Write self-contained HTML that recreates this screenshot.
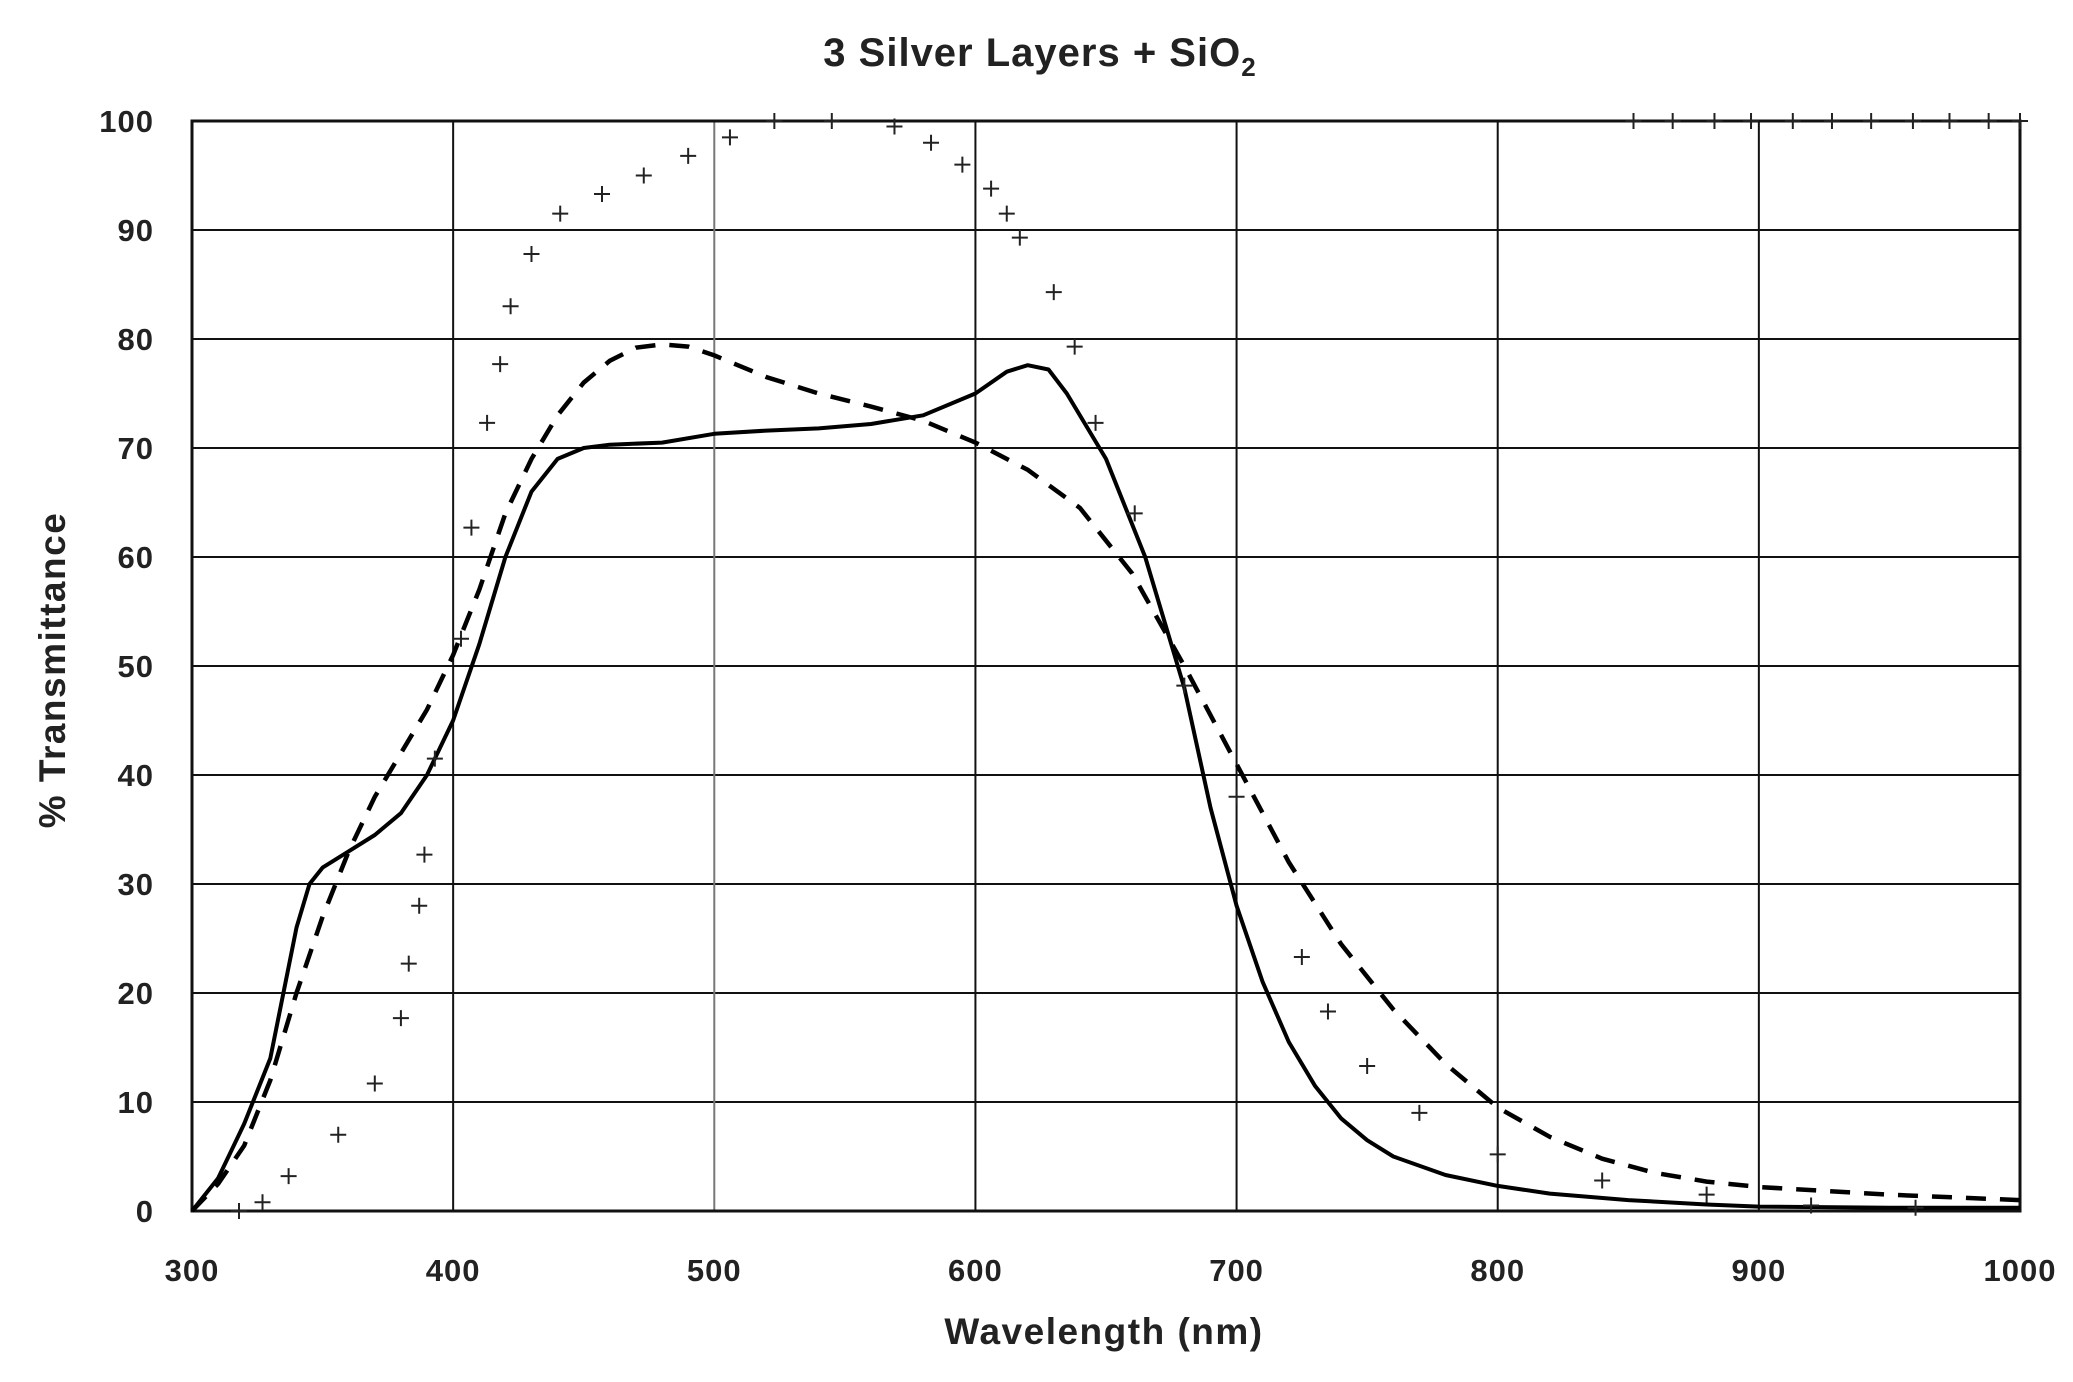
<!DOCTYPE html>
<html><head><style>
html,body{margin:0;padding:0;background:#fff;}
svg{display:block;font-family:"Liberation Sans","DejaVu Sans",sans-serif;}
</style></head><body>
<svg id="s" width="2073" height="1382" xmlns="http://www.w3.org/2000/svg">
<rect width="2073" height="1382" fill="#fff"/>
<text x="1040" y="66" font-size="40" font-weight="bold" letter-spacing="1" text-anchor="middle" fill="#222">3 Silver Layers + SiO<tspan font-size="26" dy="10">2</tspan></text>
<g id="grid"></g>
<g id="series"></g>
<g font-size="31" font-weight="bold" fill="#222" letter-spacing="1">
<g id="ylab" text-anchor="end"></g>
<g id="xlab" text-anchor="middle"></g>
</g>
<text x="1104" y="1344" font-size="37" font-weight="bold" letter-spacing="1.5" text-anchor="middle" fill="#222">Wavelength (nm)</text>
<text transform="translate(65,670) rotate(-90)" font-size="37" font-weight="bold" letter-spacing="1.5" text-anchor="middle" fill="#222">% Transmittance</text>
<script>
var L=192,R=2020,T=121,B=1211,NS="http://www.w3.org/2000/svg";
function X(w){return L+(w-300)/700*(R-L);}
function Y(v){return B-v/100*(B-T);}
function el(p,n,a,t){var e=document.createElementNS(NS,n);for(var k in a)e.setAttribute(k,a[k]);if(t!=null)e.textContent=t;document.getElementById(p).appendChild(e);return e;}
for(var v=0;v<=100;v+=10){el("grid","line",{x1:L,x2:R,y1:Y(v),y2:Y(v),stroke:"#111","stroke-width":2});el("ylab","text",{x:154,y:Y(v)+11},v);}
for(var w=300;w<=1000;w+=100){el("grid","line",{x1:X(w),x2:X(w),y1:T,y2:B,stroke:w==500?"#777":"#111","stroke-width":2});el("xlab","text",{x:X(w),y:1281},w);}
el("grid","rect",{x:L,y:T,width:R-L,height:B-T,fill:"none",stroke:"#111","stroke-width":3});
var sol=[[300,0],[310,3],[320,8],[330,14],[335,20],[340,26],[345,30],[350,31.5],[360,33],[370,34.5],[380,36.5],[390,40],[400,45],[410,52],[420,60],[430,66],[440,69],[450,70],[460,70.3],[480,70.5],[500,71.3],[520,71.6],[540,71.8],[560,72.2],[580,73],[600,75],[612,77],[620,77.6],[628,77.2],[635,75],[650,69],[665,60],[680,48],[690,37],[700,28],[710,21],[720,15.5],[730,11.5],[740,8.5],[750,6.5],[760,5],[780,3.3],[800,2.3],[820,1.6],[850,1],[880,0.6],[900,0.4],[950,0.3],[1000,0.3]];
var das=[[300,0],[310,2.5],[320,6],[330,12],[340,20],[350,27],[360,33],[370,38],[380,42],[390,46],[400,51],[410,57],[420,64],[430,69],[440,73],[450,76],[460,78],[470,79.2],[480,79.5],[490,79.3],[500,78.5],[520,76.5],[540,75],[560,73.8],[580,72.5],[600,70.5],[620,68],[640,64.5],[660,58.5],[680,50],[700,41],[720,32],[740,24.5],[760,18.5],[780,13.5],[800,9.5],[820,6.8],[840,4.8],[860,3.5],[880,2.7],[900,2.2],[950,1.5],[1000,1]];
function path(d){return "M"+d.map(function(p){return X(p[0]).toFixed(1)+","+Y(p[1]).toFixed(1);}).join(" L");}
el("series","path",{d:path(sol),fill:"none",stroke:"#000","stroke-width":4,"stroke-linejoin":"round"});
el("series","path",{d:path(das),fill:"none",stroke:"#000","stroke-width":4.5,"stroke-dasharray":"20 14"});
var cr=[[318,0],[327,0.8],[337,3.2],[356,7],[370,11.7],[380,17.7],[383,22.7],[387,28],[389,32.7],[393,41.5],[403,52.5],[407,62.7],[413,72.3],[418,77.7],[422,83],[430,87.8],[441,91.5],[457,93.3],[473,95],[490,96.8],[506,98.5],[523,100],[545,100],[569,99.5],[583,98],[595,96],[606,93.8],[612,91.5],[617,89.3],[630,84.3],[638,79.3],[646,72.3],[661,64],[680,48.2],[700,38],[725,23.3],[735,18.3],[750,13.3],[770,9],[800,5.2],[840,2.8],[880,1.5],[920,0.5],[960,0.3],[852,100],[867,100],[883,100],[897,100],[913,100],[928,100],[943,100],[959,100],[973,100],[988,100],[1000,100]];
cr.forEach(function(p){var x=X(p[0]),y=Y(p[1]);el("series","path",{d:"M"+(x-8)+","+y+"H"+(x+8)+"M"+x+","+(y-8)+"V"+(y+8),stroke:"#222","stroke-width":2});});
</script>
</svg>
</body></html>
